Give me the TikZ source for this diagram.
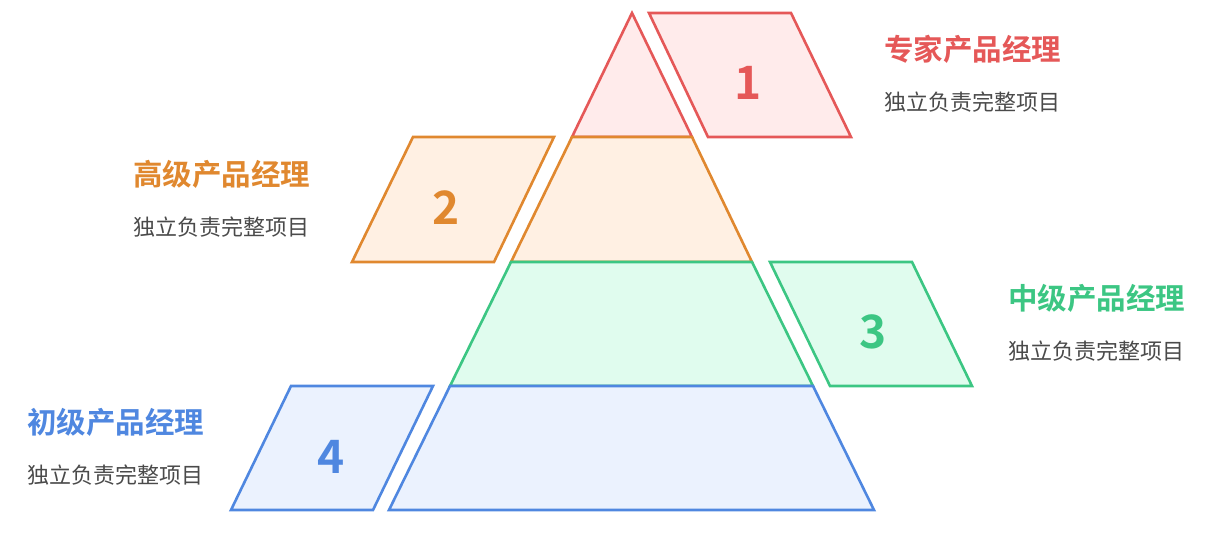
\documentclass[tikz,border=0pt]{standalone}
\usepackage{fontspec}
\newfontfamily\cjk{Noto Sans CJK SC}
\newfontfamily\cjkb{Noto Sans CJK SC Bold}
\definecolor{rline}{HTML}{E55858}
\definecolor{rfill}{HTML}{FFEBEB}
\definecolor{oline}{HTML}{E0882F}
\definecolor{ofill}{HTML}{FFF0E3}
\definecolor{gline}{HTML}{3CC683}
\definecolor{gfill}{HTML}{E0FCEE}
\definecolor{bline}{HTML}{4F87E0}
\definecolor{bfill}{HTML}{EBF2FE}
\definecolor{subc}{HTML}{4A4A4A}
\tikzset{
  shp/.style={line width=2.6pt, line join=miter},
  num/.style={font=\cjkb\fontsize{46}{46}\selectfont, inner sep=0pt},
  ttl/.style={font=\cjkb\fontsize{29.5}{31}\selectfont, anchor=west, inner sep=0pt},
  sub/.style={font=\cjk\fontsize{22}{24}\selectfont, anchor=west, inner sep=0pt, text=subc},
}
\begin{document}
\begin{tikzpicture}[x=1pt,y=-1pt]
\useasboundingbox (0,0) rectangle (1213,553);
% pyramid
\draw[shp, draw=rline, fill=rfill] (632,13) -- (692,137) -- (572,137) -- cycle;
\draw[shp, draw=oline, fill=ofill] (572,137) -- (692,137) -- (752,262) -- (511,262) -- cycle;
\draw[shp, draw=gline, fill=gfill] (511,262) -- (752,262) -- (813,386) -- (450,386) -- cycle;
\draw[shp, draw=bline, fill=bfill] (450,386) -- (813,386) -- (874,510) -- (389,510) -- cycle;
% redraw top edges of lower layers
\draw[shp, draw=oline] (572,137) -- (692,137);
\draw[shp, draw=gline] (511,262) -- (752,262);
\draw[shp, draw=bline] (450,386) -- (813,386);
% parallelograms
\draw[shp, draw=rline, fill=rfill] (649,13) -- (791,13) -- (851,137) -- (708,137) -- cycle;
\draw[shp, draw=oline, fill=ofill] (413,137) -- (554,137) -- (494,262) -- (352,262) -- cycle;
\draw[shp, draw=gline, fill=gfill] (770,262) -- (912,262) -- (972,386) -- (830,386) -- cycle;
\draw[shp, draw=bline, fill=bfill] (291,386) -- (433,386) -- (373,510) -- (231,510) -- cycle;
% numbers
\node[num, text=rline] (n1) at (748,83) {1};
\node[num, text=oline] (n2) at (446,208) {2};
\node[num, text=gline] (n3) at (873,332) {3};
\node[num, text=bline] (n4) at (331,457) {4};
% titles
\node[ttl, text=rline] (t1) at (884,49) {专家产品经理};
\node[sub] (s1) at (884,102) {独立负责完整项目};
\node[ttl, text=oline] (t2) at (133,174) {高级产品经理};
\node[sub] (s2) at (133,227) {独立负责完整项目};
\node[ttl, text=gline] (t3) at (1008,298) {中级产品经理};
\node[sub] (s3) at (1008,351) {独立负责完整项目};
\node[ttl, text=bline] (t4) at (27,422) {初级产品经理};
\node[sub] (s4) at (27,475) {独立负责完整项目};
\end{tikzpicture}
\end{document}
